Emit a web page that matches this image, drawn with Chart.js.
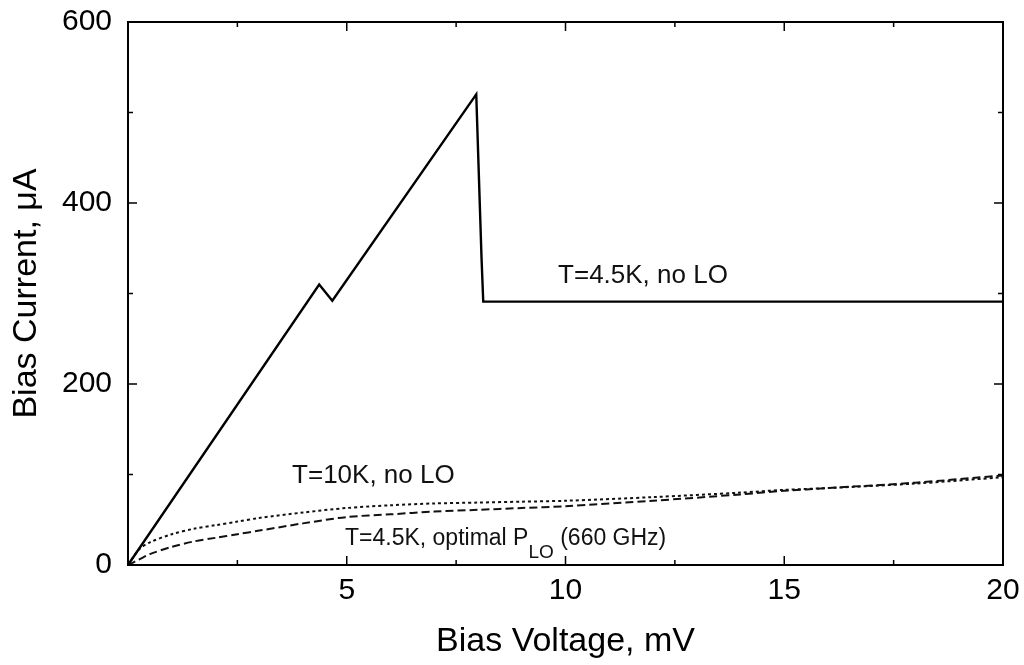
<!DOCTYPE html>
<html>
<head>
<meta charset="utf-8">
<script src="https://cdn.jsdelivr.net/npm/chart.js@4.4.1/dist/chart.umd.min.js"></script>
<style>
html,body{margin:0;padding:0;background:#fff;}
#wrap{width:1024px;height:665px;}
</style>
</head>
<body>
<div id="wrap"><canvas id="c" width="1024" height="665"></canvas></div>
<script>
// T=4.5K, no LO (solid)
const vNoLO45 = [0, 4.37, 4.67, 7.96, 8.02, 8.08, 8.12, 20];
const iNoLO45 = [0, 310, 292, 520, 430, 340, 291, 291];
// T=10K, no LO (dotted)
const v10K = [0, 0.25, 0.5, 1, 1.5, 2, 2.5, 3, 4, 5, 6, 7, 8, 9, 10, 12, 14, 15, 16, 18, 20];
const i10K = [0, 17, 25, 34, 40, 44, 48, 52, 58, 63, 66, 68, 69, 70, 71, 75, 80, 83, 85, 90, 97];
// T=4.5K, optimal PLO (dashed)
const vLO = [0, 0.25, 0.5, 1, 1.5, 2, 2.5, 3, 4, 5, 6, 7, 8, 9, 10, 12, 14, 15, 16, 18, 20];
const iLO = [0, 6, 12, 20, 26, 30, 34, 38, 46, 53, 56, 59, 61, 63, 65, 71, 78, 82, 85, 91, 99];
const xTicks = [5, 10, 15, 20];
const yTicks = [0, 200, 400, 600];

const toPts = (xs, ys) => xs.map((x, k) => ({x: x, y: ys[k]}));
const FONT = "'Liberation Sans', Arial, sans-serif";

const boxTicks = {
  id: 'boxTicks',
  afterDraw(chart) {
    const ctx = chart.ctx, a = chart.chartArea;
    const xs = chart.scales.x, ys = chart.scales.y;
    ctx.save();
    ctx.strokeStyle = '#000';
    ctx.lineWidth = 2;
    ctx.strokeRect(a.left, a.top, a.right - a.left, a.bottom - a.top);
    ctx.lineWidth = 1.5;
    for (let v = 2.5; v < 20; v += 2.5) {
      const px = xs.getPixelForValue(v);
      const len = (v % 5 === 0) ? 9 : 5;
      ctx.beginPath();
      ctx.moveTo(px, a.bottom); ctx.lineTo(px, a.bottom - len);
      ctx.moveTo(px, a.top); ctx.lineTo(px, a.top + len);
      ctx.stroke();
    }
    for (let v = 100; v < 600; v += 100) {
      const py = ys.getPixelForValue(v);
      const len = (v % 200 === 0) ? 9 : 5;
      ctx.beginPath();
      ctx.moveTo(a.left, py); ctx.lineTo(a.left + len, py);
      ctx.moveTo(a.right, py); ctx.lineTo(a.right - len, py);
      ctx.stroke();
    }
    // annotations
    ctx.fillStyle = '#111';
    ctx.font = '26px ' + FONT;
    ctx.textBaseline = 'middle';
    ctx.textAlign = 'left';
    ctx.fillText('T=4.5K, no LO', xs.getPixelForValue(9.83), ys.getPixelForValue(319));
    ctx.fillText('T=10K, no LO', xs.getPixelForValue(3.75), ys.getPixelForValue(98));
    const lx = xs.getPixelForValue(4.96), ly = ys.getPixelForValue(29);
    ctx.font = '23px ' + FONT;
    let s1 = 'T=4.5K, optimal P';
    ctx.fillText(s1, lx, ly);
    let w = ctx.measureText(s1).width;
    ctx.font = '19px ' + FONT;
    ctx.fillText('LO', lx + w, ly + 14);
    w += ctx.measureText('LO').width;
    ctx.font = '23px ' + FONT;
    ctx.fillText(' (660 GHz)', lx + w, ly);
    ctx.restore();
  }
};

new Chart(document.getElementById('c'), {
  type: 'line',
  data: {
    datasets: [
      {data: toPts(vNoLO45, iNoLO45), borderColor: '#000', borderWidth: 2.4, pointRadius: 0, tension: 0},
      {data: toPts(v10K, i10K), borderColor: '#111', borderWidth: 2, borderDash: [3, 3], pointRadius: 0, tension: 0.3},
      {data: toPts(vLO, iLO), borderColor: '#111', borderWidth: 2, borderDash: [8, 4], pointRadius: 0, tension: 0.3}
    ]
  },
  options: {
    responsive: false,
    animation: false,
    layout: {padding: {top: 22, right: 21, left: 0, bottom: 0}},
    plugins: {legend: {display: false}, tooltip: {enabled: false}},
    scales: {
      x: {
        type: 'linear', min: 0, max: 20,
        afterBuildTicks: s => { s.ticks = xTicks.map(v => ({value: v})); },
        grid: {display: false, drawTicks: false},
        border: {display: false},
        ticks: {color: '#000', font: {family: FONT, size: 30}, padding: 8, maxRotation: 0},
        title: {display: true, text: 'Bias Voltage, mV', color: '#000', font: {family: FONT, size: 34}, padding: {top: 0, bottom: 3}},
        afterFit: s => { s.height = 100; s.paddingLeft = 0; s.paddingRight = 0; }
      },
      y: {
        type: 'linear', min: 0, max: 600,
        afterBuildTicks: s => { s.ticks = yTicks.map(v => ({value: v})); },
        grid: {display: false, drawTicks: false},
        border: {display: false},
        ticks: {color: '#000', font: {family: FONT, size: 30}, padding: 16},
        title: {display: true, text: 'Bias Current, μA', color: '#000', font: {family: FONT, size: 34}, padding: {top: 6, bottom: 0}},
        afterFit: s => { s.width = 128; s.paddingTop = 0; s.paddingBottom = 0; }
      }
    }
  },
  plugins: [boxTicks]
});
</script>
</body>
</html>
